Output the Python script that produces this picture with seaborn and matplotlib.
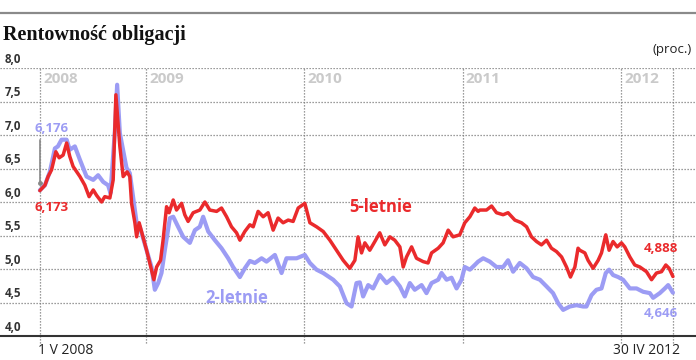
"""
Rentownosc obligacji - 2- and 5-year Polish bond yields, V 2008 - IV 2012
"""

import matplotlib
matplotlib.use('Agg')
import matplotlib.pyplot as plt
import matplotlib.transforms as mtransforms
from matplotlib.lines import Line2D
from matplotlib.ticker import FixedLocator, NullLocator
import seaborn as sns
import pandas as pd

# time as decimal year, yield in %
t_5y = [2008.331, 2008.363, 2008.383, 2008.405, 2008.432, 2008.453, 2008.478, 2008.500,
        2008.520, 2008.541, 2008.584, 2008.615, 2008.642, 2008.668, 2008.689, 2008.721,
        2008.741, 2008.773, 2008.794, 2008.811, 2008.825, 2008.836, 2008.857, 2008.882,
        2008.899, 2008.910, 2008.931, 2008.942, 2008.958, 2009.005, 2009.025, 2009.051,
        2009.068, 2009.093, 2009.109, 2009.131, 2009.147, 2009.173, 2009.194, 2009.226,
        2009.246, 2009.267, 2009.299, 2009.341, 2009.373, 2009.404, 2009.447, 2009.478,
        2009.510, 2009.541, 2009.573, 2009.594, 2009.625, 2009.657, 2009.678, 2009.709,
        2009.741, 2009.772, 2009.804, 2009.835, 2009.867, 2009.899, 2009.930, 2009.962,
        2010.004, 2010.036, 2010.078, 2010.120, 2010.162, 2010.204, 2010.246, 2010.288,
        2010.320, 2010.340, 2010.362, 2010.383, 2010.414, 2010.446, 2010.477, 2010.509,
        2010.541, 2010.572, 2010.604, 2010.625, 2010.646, 2010.678, 2010.709, 2010.751,
        2010.782, 2010.804, 2010.846, 2010.877, 2010.909, 2010.940, 2010.982, 2011.014,
        2011.046, 2011.077, 2011.098, 2011.109, 2011.151, 2011.183, 2011.214, 2011.256,
        2011.287, 2011.330, 2011.372, 2011.404, 2011.435, 2011.467, 2011.498, 2011.530,
        2011.561, 2011.593, 2011.625, 2011.656, 2011.681, 2011.709, 2011.729, 2011.740,
        2011.772, 2011.792, 2011.824, 2011.856, 2011.877, 2011.904, 2011.925, 2011.950,
        2011.976, 2012.003, 2012.024, 2012.056, 2012.087, 2012.119, 2012.161, 2012.193,
        2012.224, 2012.256, 2012.283, 2012.304, 2012.328]
y_5y = [6.17, 6.25, 6.38, 6.48, 6.75, 6.66, 6.70, 6.88,
        6.68, 6.53, 6.38, 6.25, 6.08, 6.18, 6.10, 6.00,
        6.08, 6.06, 6.33, 7.60, 7.18, 6.83, 6.38, 6.45,
        6.38, 5.98, 5.69, 5.48, 5.69, 5.28, 5.09, 4.84,
        5.03, 5.13, 5.43, 5.93, 5.84, 6.03, 5.88, 5.98,
        5.81, 5.71, 5.84, 5.88, 6.00, 5.88, 5.86, 5.91,
        5.78, 5.63, 5.54, 5.43, 5.56, 5.66, 5.63, 5.86,
        5.78, 5.84, 5.58, 5.76, 5.69, 5.73, 5.71, 5.91,
        5.98, 5.69, 5.63, 5.56, 5.43, 5.28, 5.13, 5.01,
        5.13, 5.48, 5.24, 5.39, 5.28, 5.41, 5.54, 5.36,
        5.48, 5.43, 5.33, 5.03, 5.18, 5.33, 5.16, 5.11,
        5.09, 5.24, 5.31, 5.39, 5.58, 5.48, 5.51, 5.69,
        5.78, 5.91, 5.86, 5.88, 5.88, 5.94, 5.84, 5.81,
        5.84, 5.73, 5.69, 5.63, 5.48, 5.41, 5.36, 5.43,
        5.31, 5.26, 5.18, 5.03, 4.88, 5.03, 5.31, 5.28,
        5.24, 5.13, 5.01, 5.13, 5.24, 5.51, 5.28, 5.41,
        5.33, 5.39, 5.33, 5.18, 5.06, 5.03, 4.96, 4.84,
        4.94, 4.96, 5.06, 5.01, 4.888]

t_2y = [2008.331, 2008.363, 2008.394, 2008.426, 2008.445, 2008.468, 2008.500, 2008.520,
        2008.552, 2008.584, 2008.626, 2008.668, 2008.699, 2008.731, 2008.762, 2008.777,
        2008.805, 2008.819, 2008.836, 2008.878, 2008.899, 2008.942, 2008.962, 2009.005,
        2009.036, 2009.057, 2009.078, 2009.099, 2009.120, 2009.152, 2009.173, 2009.204,
        2009.236, 2009.278, 2009.310, 2009.341, 2009.362, 2009.394, 2009.436, 2009.478,
        2009.520, 2009.551, 2009.594, 2009.625, 2009.657, 2009.688, 2009.731, 2009.762,
        2009.815, 2009.857, 2009.888, 2009.952, 2010.004, 2010.036, 2010.078, 2010.120,
        2010.183, 2010.225, 2010.267, 2010.299, 2010.330, 2010.351, 2010.372, 2010.404,
        2010.435, 2010.477, 2010.520, 2010.561, 2010.604, 2010.635, 2010.667, 2010.698,
        2010.741, 2010.772, 2010.804, 2010.846, 2010.867, 2010.899, 2010.930, 2010.962,
        2010.993, 2011.014, 2011.046, 2011.077, 2011.098, 2011.130, 2011.172, 2011.214,
        2011.256, 2011.287, 2011.319, 2011.361, 2011.404, 2011.445, 2011.488, 2011.530,
        2011.571, 2011.603, 2011.635, 2011.677, 2011.719, 2011.761, 2011.782, 2011.814,
        2011.845, 2011.877, 2011.904, 2011.925, 2011.950, 2011.982, 2012.013, 2012.056,
        2012.098, 2012.140, 2012.182, 2012.203, 2012.245, 2012.277, 2012.298, 2012.328]
y_2y = [6.176, 6.25, 6.45, 6.80, 6.83, 6.93, 6.93, 6.78,
        6.83, 6.63, 6.38, 6.33, 6.40, 6.30, 6.25, 6.13,
        7.07, 7.75, 7.03, 6.51, 6.43, 5.69, 5.63, 5.28,
        5.03, 4.69, 4.79, 4.94, 5.28, 5.76, 5.78, 5.63,
        5.48, 5.39, 5.58, 5.63, 5.78, 5.56, 5.43, 5.31,
        5.16, 5.03, 4.88, 5.01, 5.12, 5.09, 5.16, 5.11,
        5.21, 4.94, 5.16, 5.16, 5.21, 5.09, 4.99, 4.94,
        4.84, 4.74, 4.49, 4.44, 4.79, 4.80, 4.59, 4.76,
        4.71, 4.91, 4.79, 4.87, 4.74, 4.59, 4.79, 4.69,
        4.76, 4.64, 4.79, 4.84, 4.94, 4.84, 4.87, 4.71,
        4.84, 5.03, 4.99, 5.06, 5.11, 5.16, 5.11, 5.03,
        5.03, 5.13, 4.96, 5.09, 5.01, 4.88, 4.84, 4.74,
        4.64, 4.49, 4.39, 4.44, 4.46, 4.44, 4.44, 4.61,
        4.69, 4.71, 4.94, 4.99, 4.91, 4.88, 4.84, 4.71,
        4.71, 4.66, 4.64, 4.57, 4.64, 4.71, 4.76, 4.646]

y_ticks = [4.0, 4.5, 5.0, 5.5, 6.0, 6.5, 7.0, 7.5, 8.0]
y_tick_labels = ['4,0', '4,5', '5,0', '5,5', '6,0', '6,5', '7,0', '7,5', '8,0']
year_lines = ['2008-05-01', '2009-01-01', '2010-01-01', '2011-01-01', '2012-01-01', '2012-04-30']
year_labels = ['2008', '2009', '2010', '2011', '2012']

RED = '#ea2a2c'
BLUE = '#9c9cf4'
GRID = '#7c7c7c'


def to_date(t):
    return pd.Timestamp('2008-01-01') + pd.to_timedelta((t - 2008) * 365.25, unit='D')


df = pd.concat([
    pd.DataFrame({'date': [to_date(t) for t in t_2y], 'value': y_2y, 'series': '2-letnie'}),
    pd.DataFrame({'date': [to_date(t) for t in t_5y], 'value': y_5y, 'series': '5-letnie'}),
])

sns.set_style('white')
plt.rcParams['font.family'] = ['Open Sans', 'DejaVu Sans']

fig = plt.figure(figsize=(6.96, 3.6), dpi=100)
ax = fig.add_axes([0, 1 - 336 / 360, 1, (336 - 68) / 360])

start = pd.Timestamp(year_lines[0])
end = pd.Timestamp(year_lines[-1])
ax.set_xlim(start - pd.Timedelta(days=92), end + pd.Timedelta(days=53))
ax.set_ylim(4.0, 8.0)

# grid
for v in y_ticks[1:]:
    ax.axhline(v, color=GRID, lw=0.9, ls=(0, (1, 1.4)), zorder=1)
for d in year_lines:
    ax.axvline(pd.Timestamp(d), ymin=-0.025, ymax=1, color=GRID, lw=0.9,
               ls=(0, (1, 1.4)), zorder=1, clip_on=False)

sns.lineplot(data=df, x='date', y='value', hue='series', hue_order=['2-letnie', '5-letnie'],
             palette={'2-letnie': BLUE, '5-letnie': RED}, estimator=None, errorbar=None,
             legend=False, ax=ax, zorder=3)
lines = ax.get_lines()[-2:]
lines[0].set_linewidth(3.0)
lines[1].set_linewidth(2.5)

for s in ['top', 'left', 'right']:
    ax.spines[s].set_visible(False)
ax.spines['bottom'].set_color('#333333')
ax.spines['bottom'].set_linewidth(1.5)
ax.set_xlabel('')
ax.set_ylabel('')
ax.yaxis.set_major_locator(NullLocator())
ax.xaxis.set_major_locator(FixedLocator(
    [matplotlib.dates.date2num(d) for d in pd.date_range('2008-06-01', '2012-04-01', freq='MS')]))
ax.xaxis.set_minor_locator(NullLocator())
ax.tick_params(axis='x', direction='in', length=4.5, width=1, color='#333333', labelbottom=False)

# y labels sitting above the gridlines
trans = mtransforms.blended_transform_factory(ax.transAxes, ax.transData)
for v, lab in zip(y_ticks, y_tick_labels):
    ax.text(0.007, v + 0.03, lab, transform=trans, fontsize=8.3, fontweight='bold',
            color='#333333', va='bottom', ha='left')

# year labels
trans_y = mtransforms.blended_transform_factory(ax.transData, ax.transAxes)
for d, lab in zip(year_lines[:-1], year_labels):
    ax.text(pd.Timestamp(d) + pd.Timedelta(days=7), 0.96, lab, transform=trans_y,
            fontsize=11, fontweight='bold', color='#cacaca', va='center', ha='left')

# start / end annotations
ax.text(start - pd.Timedelta(days=12), 7.09, '6,176', color=BLUE, fontsize=9.5,
        fontweight='bold', va='center', ha='left')
ax.text(start - pd.Timedelta(days=12), 5.92, '6,173', color=RED, fontsize=9.5,
        fontweight='bold', va='center', ha='left')
ax.plot([start, start], [6.28, 6.93], color='#888888', lw=1.2, zorder=2)
ax.plot([start], [6.28], marker='o', ms=2.5, color='#888888', zorder=2)
ax.text(to_date(2012.251), 5.30, '4,888', color=RED, fontsize=9.5,
        fontweight='bold', va='center', ha='center')
ax.text(to_date(2012.251), 4.33, '4,646', color=BLUE, fontsize=9.5,
        fontweight='bold', va='center', ha='center')

# series labels
ax.text(to_date(2010.484), 5.93, '5-letnie', color=RED, fontsize=12,
        fontweight='bold', va='center', ha='center')
ax.text(to_date(2009.575), 4.57, '2-letnie', color=BLUE, fontsize=12,
        fontweight='bold', va='center', ha='center')

# bottom date labels
ax.text(start - pd.Timedelta(days=5), -0.055, '1 V 2008', transform=trans_y,
        fontsize=10, color='#222222', va='center', ha='left')
ax.text(end + pd.Timedelta(days=17), -0.055, '30 IV 2012', transform=trans_y,
        fontsize=10, color='#222222', va='center', ha='right')

# header
fig.add_artist(Line2D([0, 1], [1 - 13 / 360] * 2, color='#8a8a8a', lw=1.6))
fig.text(0.004, 1 - 35 / 360, 'Rentowność obligacji', family='Liberation Serif',
         fontsize=14.5, fontweight='bold', color='#111111', va='center', ha='left')
fig.text(0.994, 1 - 50 / 360, '(proc.)', fontsize=9.5, color='#222222',
         va='center', ha='right')

fig.savefig('out.png', dpi=100)
plt.close(fig)
